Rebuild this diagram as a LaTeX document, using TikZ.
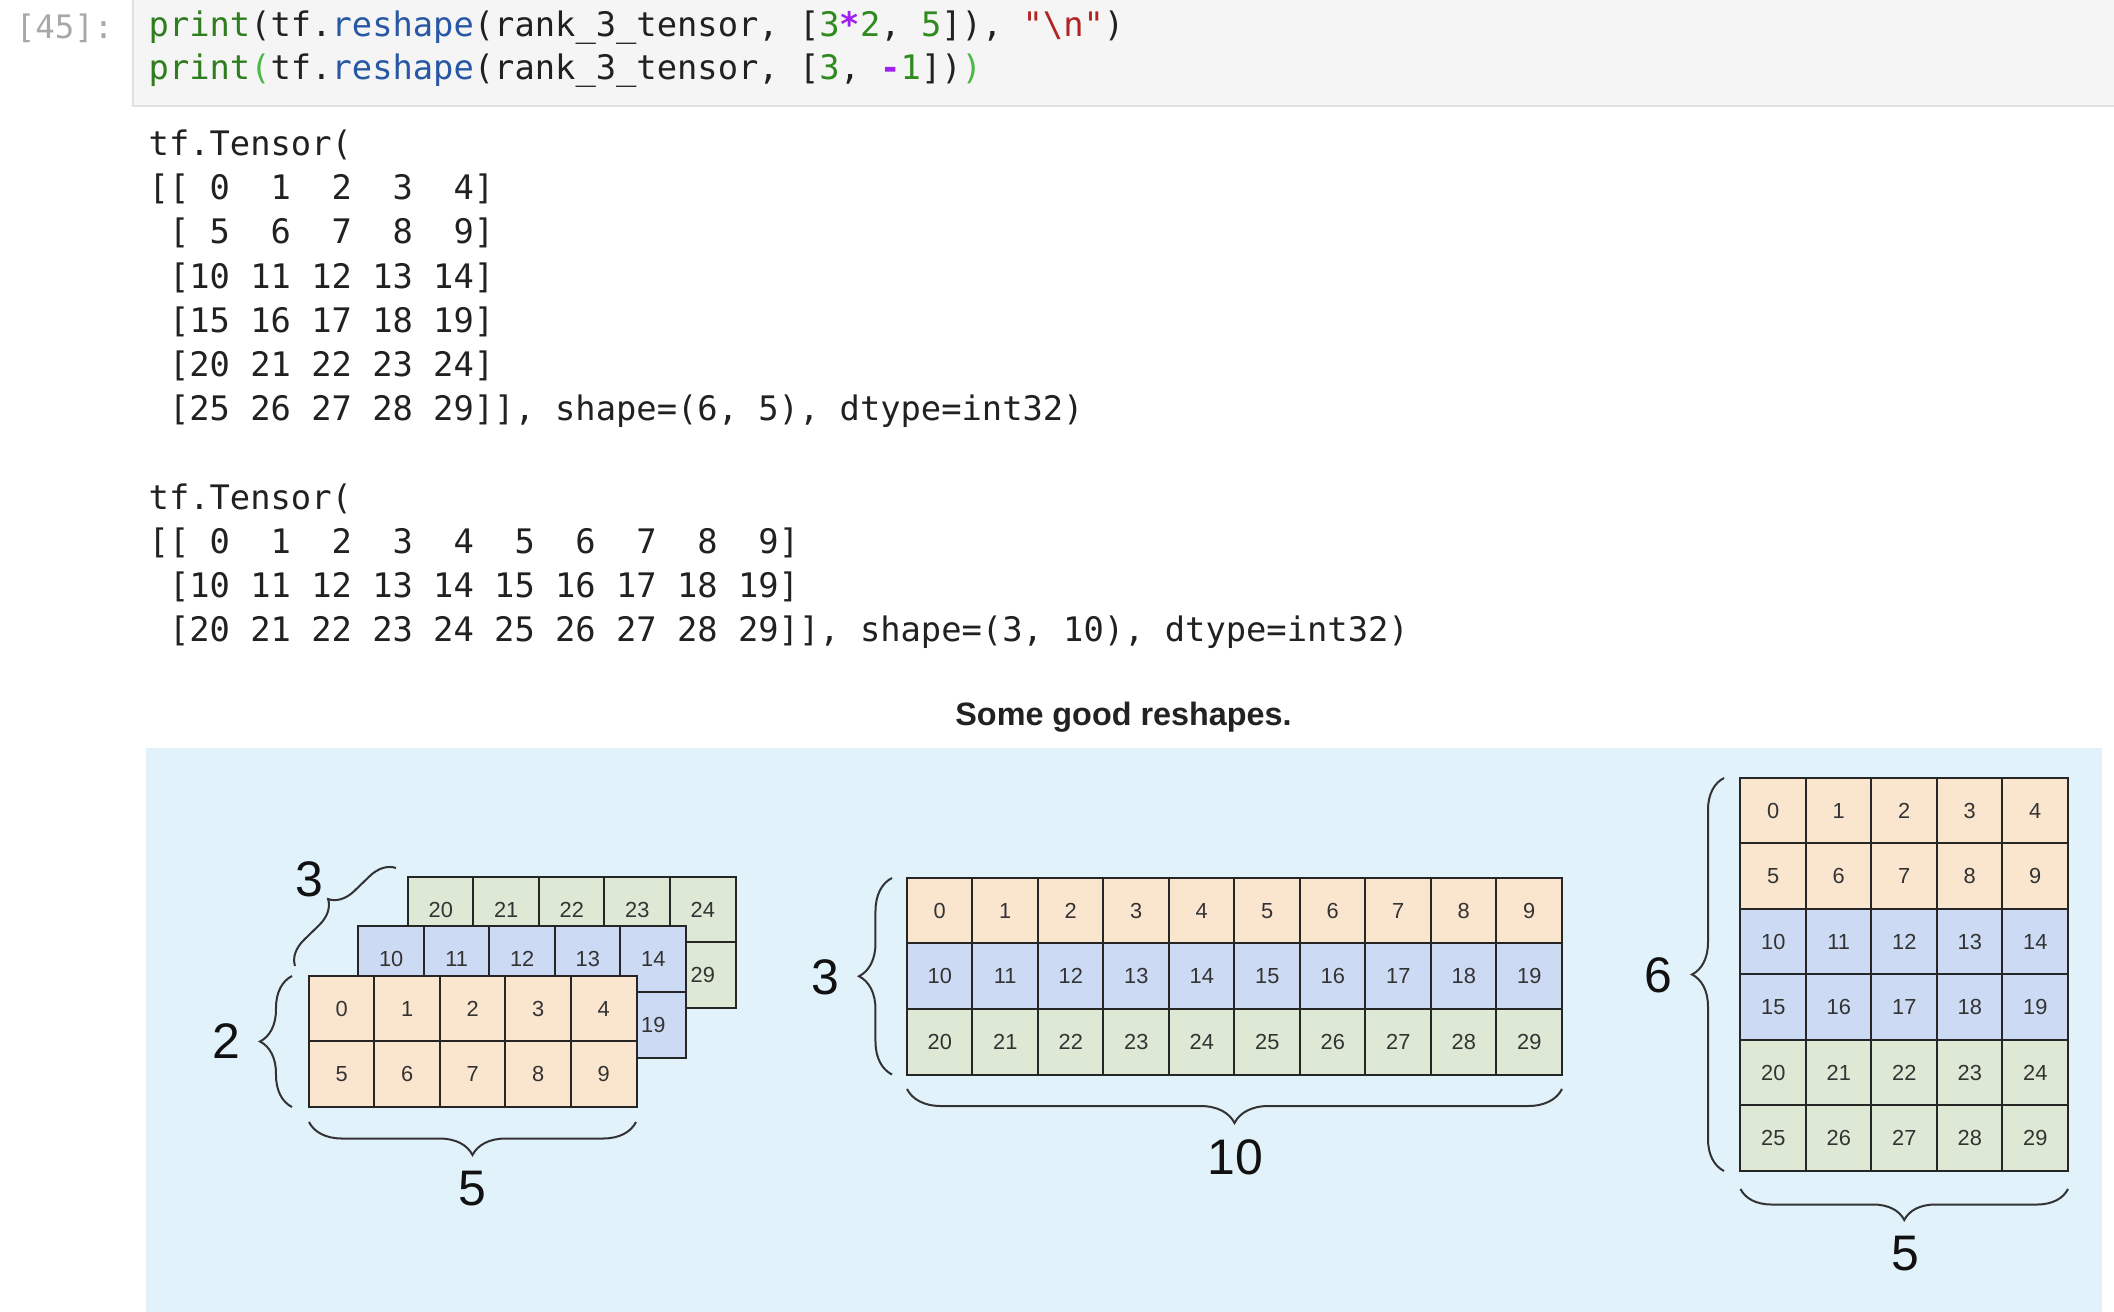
\documentclass[tikz,border=0pt]{standalone}
\usepackage{fontspec}
\setmainfont{Liberation Sans}
\setmonofont{DejaVu Sans Mono}
\usetikzlibrary{decorations.pathreplacing}
\definecolor{cpanel}{HTML}{E1F2FB}
\definecolor{corange}{HTML}{FAE5CF}
\definecolor{cblue}{HTML}{CDDAF4}
\definecolor{cgreen}{HTML}{DDE9D5}
\definecolor{cline}{HTML}{262626}
\definecolor{ctext}{HTML}{333333}
\definecolor{cbrace}{HTML}{333333}
\definecolor{clabel}{HTML}{111111}
\definecolor{ccodebg}{HTML}{F5F5F5}
\definecolor{ccodeborder}{HTML}{E0E0E0}
\definecolor{ctxt}{HTML}{212121}
\definecolor{cprompt}{HTML}{A8A8A8}
\definecolor{cbuiltin}{HTML}{2F7D1F}
\definecolor{cnum}{HTML}{2F8A1F}
\definecolor{cprop}{HTML}{2857A4}
\definecolor{cop}{HTML}{A020F0}
\definecolor{cstr}{HTML}{B22222}
\definecolor{cmatch}{HTML}{4CB848}
\definecolor{ctitle}{HTML}{222222}
\begin{document}
\begin{tikzpicture}[x=0.01cm,y=-0.01cm,
  cell/.style={draw=cline, line width=0.02cm, minimum size=0.655cm, inner sep=0pt,
    font=\fontsize{6.2}{7}\selectfont, text=ctext},
  mono/.style={anchor=base west, inner sep=0pt, font=\ttfamily\fontsize{9.6}{11}\selectfont, text=ctxt},
  brc/.style={decorate, decoration={brace, amplitude=#1}, draw=cbrace, line width=0.02cm},
  lbl/.style={font=\fontsize{14.2}{16}\selectfont, text=clabel, inner sep=0pt}]
\useasboundingbox (0,0) rectangle (2114,1312);
\clip (0,0) rectangle (2114,1312);
\fill[white] (0,0) rectangle (2114,1312);

% code cell
\draw[fill=ccodebg, draw=ccodeborder, line width=0.02cm] (133,-10) rectangle (2130,106);
\node[anchor=base east, inner sep=0pt, font=\ttfamily\fontsize{9.2}{10}\selectfont, text=cprompt] (prompt) at (114,38) {[45]:};
\node[mono] (code1) at (148,36.5) {\textcolor{cbuiltin}{print}(tf.\textcolor{cprop}{reshape}(rank\_3\_tensor,~[\textcolor{cnum}{3}\textcolor{cop}{\bfseries*}\textcolor{cnum}{2},~\textcolor{cnum}{5}]),~\textcolor{cstr}{\symbol{34}\textbackslash n\symbol{34}})};
\node[mono] (code2) at (148,79) {\textcolor{cbuiltin}{print}\textcolor{cmatch}{(}tf.\textcolor{cprop}{reshape}(rank\_3\_tensor,~[\textcolor{cnum}{3},~\textcolor{cop}{\bfseries-}\textcolor{cnum}{1}])\textcolor{cmatch}{)}};

% output 1
\node[mono] (o1a) at (148,155.5) {tf.Tensor(};
\node[mono] (o1b) at (148,199.7) {[[~0~~1~~2~~3~~4]};
\node[mono] (o1c) at (148,243.9) {~[~5~~6~~7~~8~~9]};
\node[mono] (o1d) at (148,288.1) {~[10~11~12~13~14]};
\node[mono] (o1e) at (148,332.3) {~[15~16~17~18~19]};
\node[mono] (o1f) at (148,376.5) {~[20~21~22~23~24]};
\node[mono] (o1g) at (148,420.7) {~[25~26~27~28~29]],~shape=(6,~5),~dtype=int32)};

% output 2
\node[mono] (o2a) at (148,509) {tf.Tensor(};
\node[mono] (o2b) at (148,553.3) {[[~0~~1~~2~~3~~4~~5~~6~~7~~8~~9]};
\node[mono] (o2c) at (148,597.6) {~[10~11~12~13~14~15~16~17~18~19]};
\node[mono] (o2d) at (148,641.9) {~[20~21~22~23~24~25~26~27~28~29]],~shape=(3,~10),~dtype=int32)};

% title
\node[anchor=base, inner sep=0pt, font=\bfseries\fontsize{9.2}{11}\selectfont, text=ctitle] (title) at (1123.5,725) {Some good reshapes.};

% panel
\fill[cpanel] (146,748) rectangle (2102,1330);

% left: stacked layers
\foreach \l/\ox/\oy/\col in {2/408/877/cgreen, 1/358.5/926.5/cblue, 0/309/976/corange}{
  \foreach \r in {0,1}{
    \foreach \c in {0,...,4}{
      \pgfmathtruncatemacro\v{10*\l+5*\r+\c}
      \node[cell, fill=\col] (a\l\r\c) at ({\ox+65.5*\c+32.75},{\oy+65.5*\r+32.75}) {\v};
    }
  }
}

% middle: 3 x 10
\foreach \r/\col in {0/corange, 1/cblue, 2/cgreen}{
  \foreach \c in {0,...,9}{
    \pgfmathtruncatemacro\v{10*\r+\c}
    \node[cell, fill=\col] (m\r-\c) at ({907+65.5*\c+32.75},{878+65.5*\r+32.75}) {\v};
  }
}

% right: 6 x 5
\foreach \r/\col in {0/corange, 1/corange, 2/cblue, 3/cblue, 4/cgreen, 5/cgreen}{
  \foreach \c in {0,...,4}{
    \pgfmathtruncatemacro\v{5*\r+\c}
    \node[cell, fill=\col] (r\r-\c) at ({1740.5+65.5*\c+32.75},{778+65.5*\r+32.75}) {\v};
  }
}

% brace end points
\coordinate (b2s) at (292,1107);   \coordinate (b2e) at (292,976);
\coordinate (b5as) at (636,1122);  \coordinate (b5ae) at (309,1122);
\coordinate (b3as) at (295,966);   \coordinate (b3ae) at (396,868);
\coordinate (b3bs) at (892,1074.5);\coordinate (b3be) at (892,878);
\coordinate (b10s) at (1562,1089); \coordinate (b10e) at (907,1089);
\coordinate (b6s) at (1724,1171);  \coordinate (b6e) at (1724,778);
\coordinate (b5bs) at (2068,1189); \coordinate (b5be) at (1740.5,1189);

\draw[brc=0.32cm] (b2s) -- (b2e);
\draw[brc=0.33cm] (b5as) -- (b5ae);
\draw[brc=0.25cm] (b3as) -- (b3ae);
\draw[brc=0.33cm] (b3bs) -- (b3be);
\draw[brc=0.34cm] (b10s) -- (b10e);
\draw[brc=0.32cm] (b6s) -- (b6e);
\draw[brc=0.31cm] (b5bs) -- (b5be);

% brace labels
\node[lbl] (l2) at (226,1041) {2};
\node[lbl] (l5a) at (472,1189) {5};
\node[lbl] (l3a) at (309,879) {3};
\node[lbl] (l3b) at (825,977) {3};
\node[lbl] (l10) at (1235,1157) {10};
\node[lbl] (l6) at (1658,975) {6};
\node[lbl] (l5b) at (1905,1254) {5};
\end{tikzpicture}
\end{document}
